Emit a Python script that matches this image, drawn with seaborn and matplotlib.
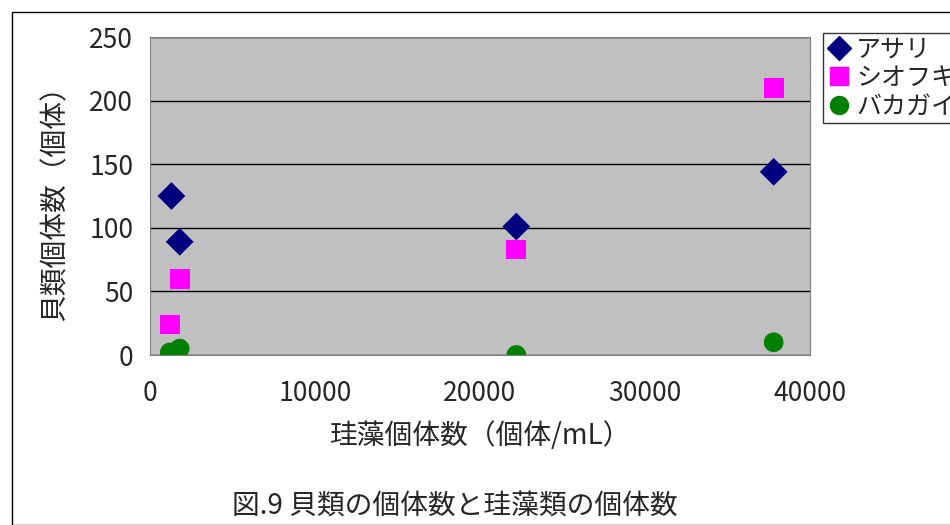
import matplotlib
matplotlib.use("Agg")
import matplotlib.pyplot as plt
import seaborn as sns
import pandas as pd
from matplotlib.patches import Rectangle

asari_x = [1300, 1800, 22200, 37800]
asari_y = [125, 89, 101, 144]
shiofuki_x = [1200, 1800, 22200, 37800]
shiofuki_y = [24, 60, 83, 210]
bakagai_x = [1200, 1800, 22200, 37800]
bakagai_y = [2, 5, 0, 10]
series_names = ["アサリ", "シオフキ", "バカガイ"]

sns.set_style("white")
plt.rcParams["font.family"] = ["Noto Sans CJK JP", "DejaVu Sans"]

rows = []
for name, xs, ys in zip(series_names, [asari_x, shiofuki_x, bakagai_x], [asari_y, shiofuki_y, bakagai_y]):
    for x, y in zip(xs, ys):
        rows.append({"x": x, "y": y, "species": name})
df = pd.DataFrame(rows)

fig = plt.figure(figsize=(9.5, 5.25), dpi=100)
ax = fig.add_axes([150 / 950, 1 - 355 / 525, 660 / 950, 318 / 525])
ax.set_facecolor("#c0c0c0")
sns.scatterplot(
    data=df, x="x", y="y", hue="species", style="species",
    palette={"アサリ": "#000080", "シオフキ": "#ff00ff", "バカガイ": "#008000"},
    markers={"アサリ": "D", "シオフキ": "s", "バカガイ": "o"},
    s=200, edgecolor="none", ax=ax, legend=False, zorder=3,
)
ax.set_xlim(0, 40000)
ax.set_ylim(0, 250)
ax.set_xticks(range(0, 40001, 10000))
ax.set_yticks(range(0, 251, 50))
ax.yaxis.grid(True, color="black", linewidth=1)
ax.set_axisbelow(True)
for s in ax.spines.values():
    s.set_color("#808080")
ax.tick_params(axis="x", direction="in", length=5, labelsize=19, pad=18)
ax.tick_params(axis="y", labelsize=19, length=0, pad=12)
ax.set_xlabel("珪藻個体数（個体/mL）", fontsize=20, labelpad=10)
ax.set_ylabel("貝類個体数（個体）", fontsize=20, labelpad=14)

handles = [
    plt.Line2D([], [], marker="D", color="#000080", linestyle="none", markersize=12),
    plt.Line2D([], [], marker="s", color="#ff00ff", linestyle="none", markersize=13),
    plt.Line2D([], [], marker="o", color="#008000", linestyle="none", markersize=13),
]
leg = fig.legend(handles, series_names, loc="upper left", bbox_to_anchor=(810 / 950, 1 - 20 / 525),
                 fontsize=18, frameon=True, fancybox=False, edgecolor="black",
                 handletextpad=0.2, borderpad=0.15, labelspacing=0.1, handlelength=1.0)
leg.get_frame().set_linewidth(1)

fig.patches.append(Rectangle((12 / 950, 0), 1.0, 1 - 12 / 525, transform=fig.transFigure,
                             fill=False, edgecolor="black", linewidth=1))
fig.text(455 / 950, 1 - 506 / 525, "図.9 貝類の個体数と珪藻類の個体数", fontsize=20, ha="center", va="center")

fig.savefig("out.png", dpi=100)
